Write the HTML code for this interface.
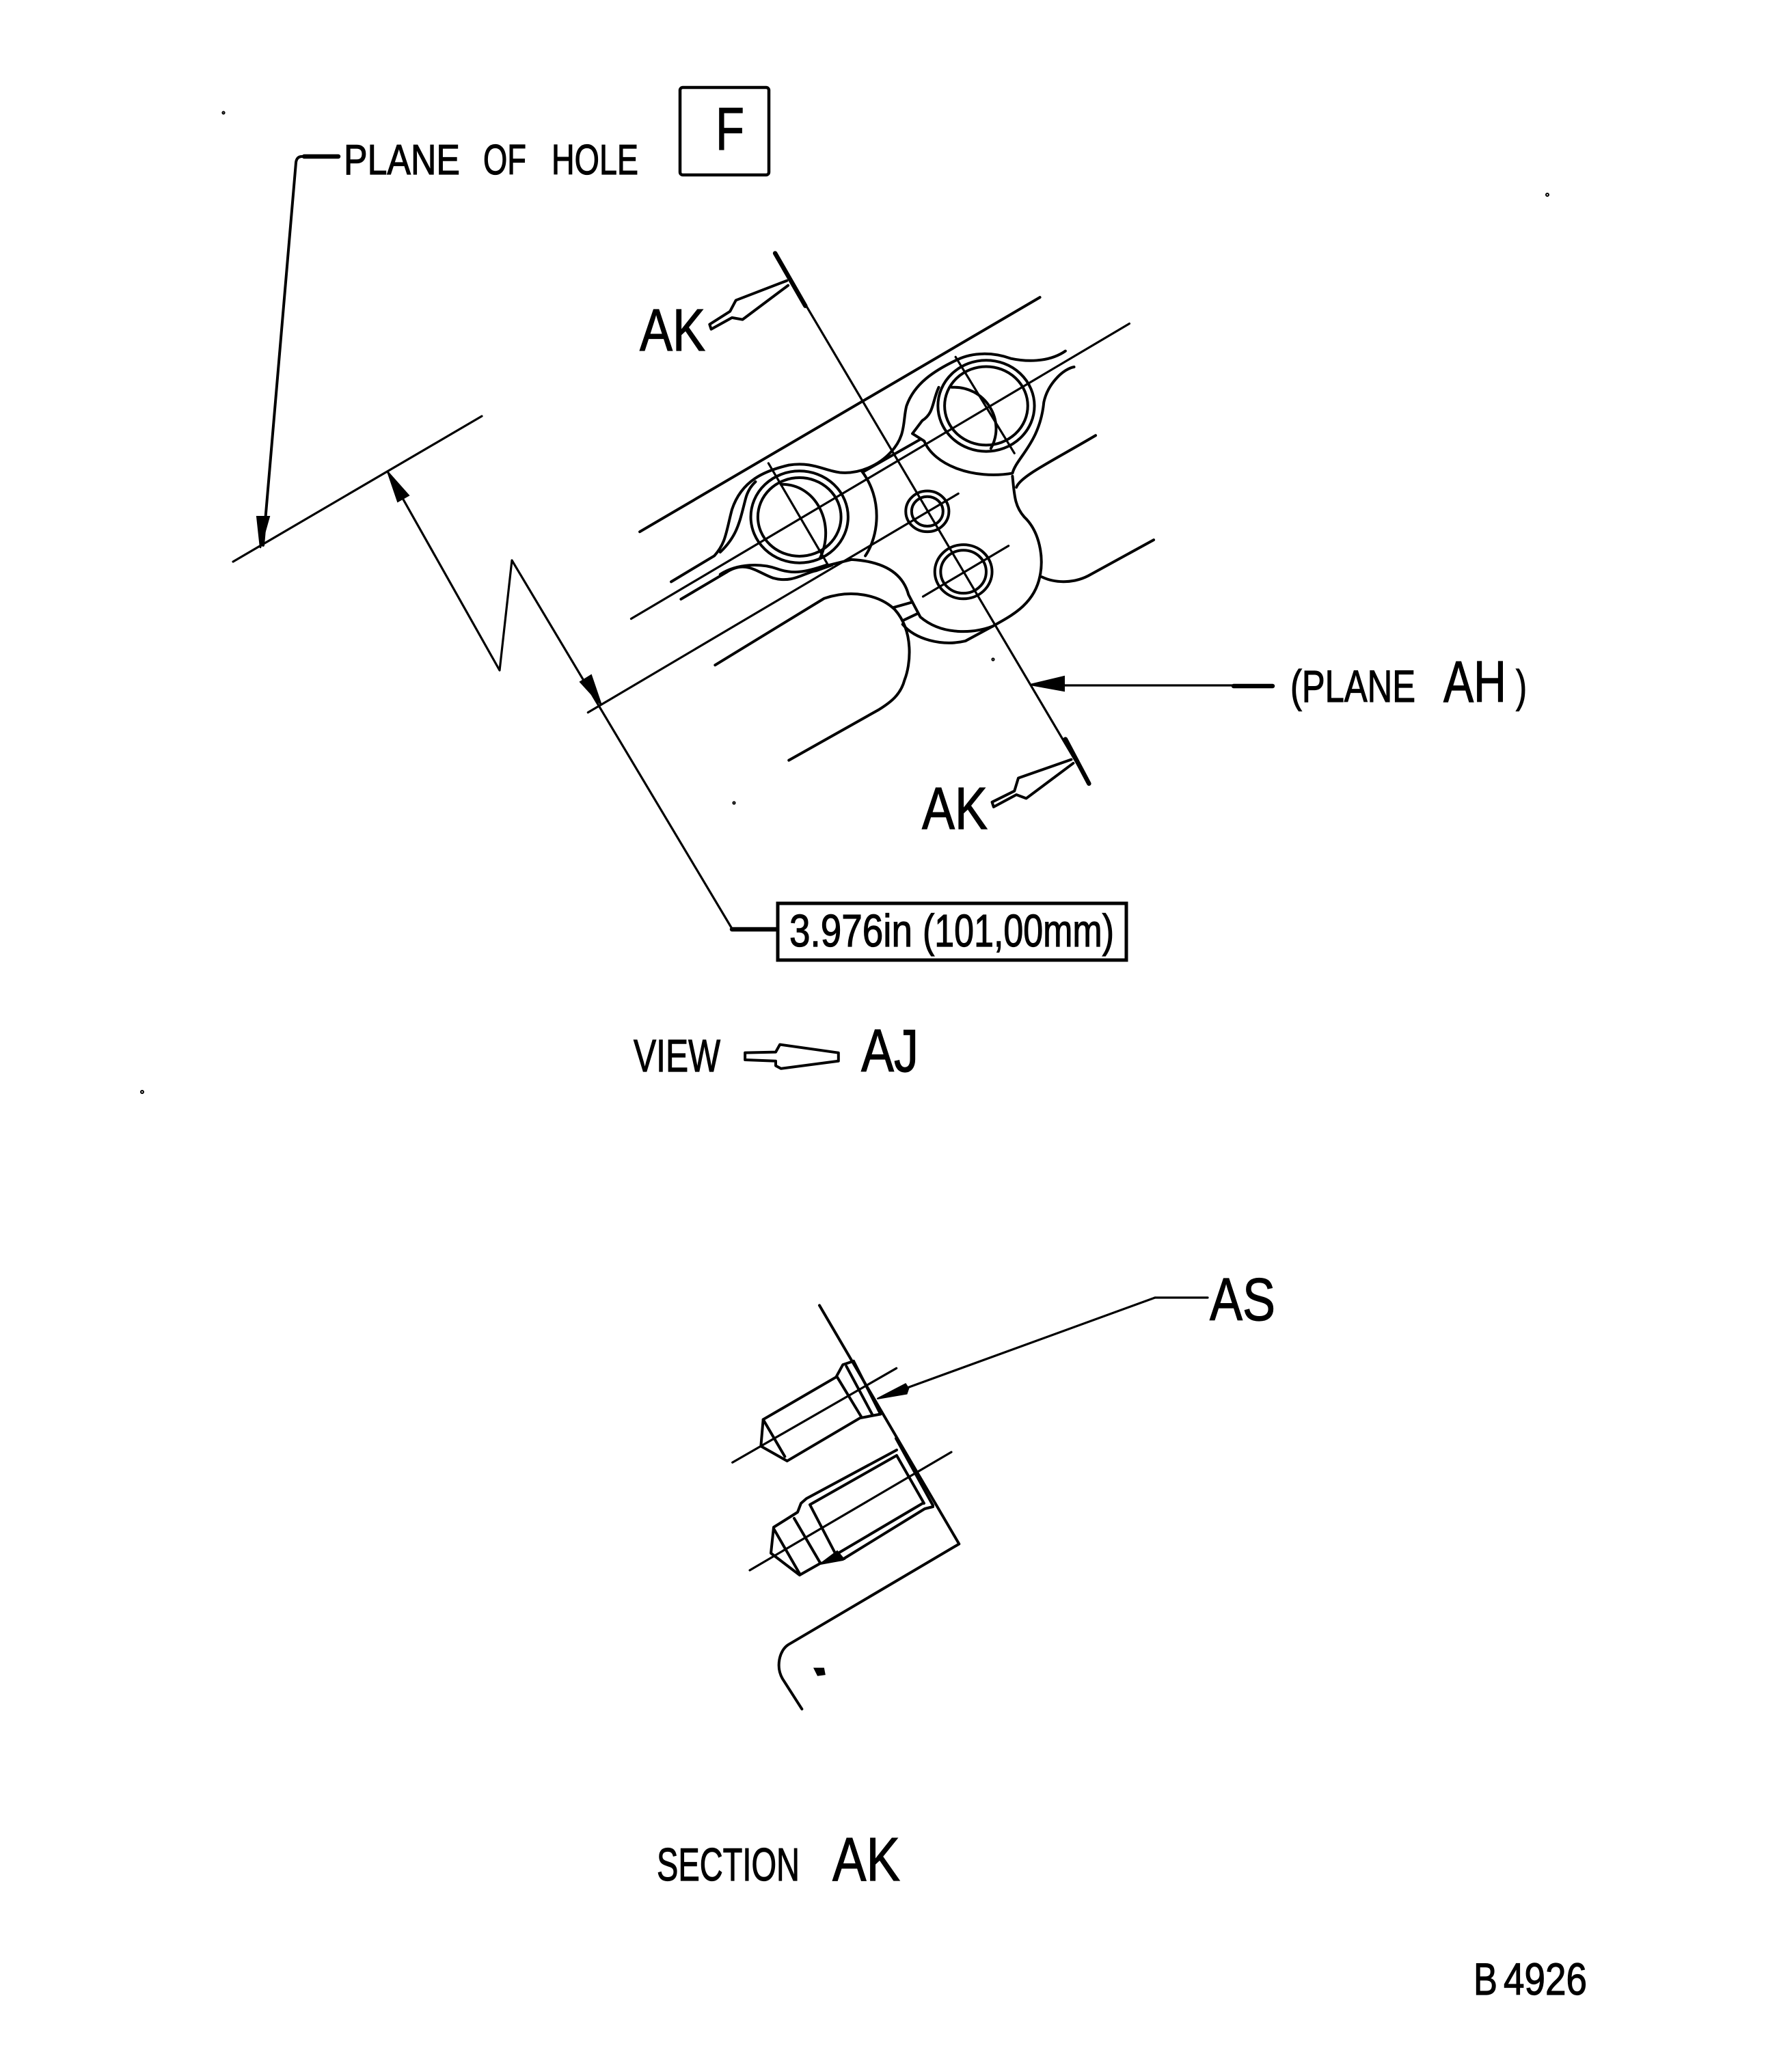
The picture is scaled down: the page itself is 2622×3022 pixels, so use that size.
<!DOCTYPE html>
<html><head><meta charset="utf-8"><style>
html,body{margin:0;padding:0;background:#fff}
svg{display:block}
text{font-family:"Liberation Sans",sans-serif;fill:#000;stroke:#000;stroke-width:1.2}
.d *{vector-effect:non-scaling-stroke}
.d path,.d line,.d circle,.d polyline{fill:none;stroke:#000;stroke-width:4;stroke-linejoin:round;stroke-linecap:round}
.d .th{stroke-width:3.2}
.d .b{stroke-width:6.5}
.d polygon.k{fill:#000;stroke:#000;stroke-width:2}
.d polygon.o{fill:#fff;stroke:#000;stroke-width:4;stroke-linejoin:round}
</style></head><body>
<svg width="2622" height="3022" viewBox="0 0 2622 3022" xmlns="http://www.w3.org/2000/svg">
<rect width="2622" height="3022" fill="#fff"/>
<g class="d">
<!-- top-left dimension lines -->
<line x1="341" y1="822" x2="705" y2="609" class="th"/>
<path d="M495 229H442Q434 229 433 238L385 798"/>
<line x1="495" y1="229" x2="445" y2="229" class="b"/>
<polygon class="k" points="381,802 376,756 394,756"/>
<polygon class="k" points="567,690 598,725 582,734"/>
<polyline class="th" points="567,690 731,981 749,820 1071,1359"/>
<polygon class="k" points="880,1032 865,988 849,998"/>
<line x1="1071" y1="1360" x2="1135" y2="1360" class="b"/>
<rect x="995" y="128" width="130" height="128" rx="4" fill="none" stroke="#000" stroke-width="4.5"/>
<rect x="1138" y="1322" width="510" height="83" fill="none" stroke="#000" stroke-width="5"/>

<!-- main part, in zoom coordinates -->
<g transform="translate(850 350) scale(.574 .542)">
<line x1="495" y1="38" x2="1295" y2="1470" class="th"/>
<line x1="495" y1="38" x2="572" y2="180" class="b"/>
<line x1="1235" y1="1350" x2="1295" y2="1470" class="b"/>
<path d="M525 112L395 165L380 195L328 230L332 243L385 212L412 217L528 125"/>
<path d="M1250 1405L1115 1455L1105 1490L1048 1520L1052 1533L1110 1500L1135 1510L1255 1415"/>
<line x1="150" y1="790" x2="1170" y2="157"/>
<line x1="128" y1="1025" x2="1398" y2="228" class="th"/>
<line x1="18" y1="1278" x2="962" y2="687" class="th"/>
<line x1="872" y1="965" x2="1090" y2="828" class="th"/>
<circle cx="1033" cy="450" r="123"/>
<circle cx="1033" cy="450" r="106"/>
<circle cx="557" cy="750" r="124"/>
<circle cx="557" cy="750" r="106"/>
<circle cx="883" cy="735" r="55"/>
<circle cx="883" cy="735" r="40"/>
<circle cx="975" cy="898" r="73"/>
<circle cx="975" cy="898" r="58"/>
<line x1="955" y1="318" x2="1105" y2="578" class="th"/>
<line x1="478" y1="605" x2="630" y2="880" class="th"/>
<path d="M945 400C1030 395 1085 490 1045 565"/>
<path d="M510 662C600 660 650 770 610 860"/>
<path d="M1235 302C1190 335 1130 330 1095 322C1050 305 1000 305 960 325C900 355 850 390 830 450C820 490 830 530 790 575C760 610 710 635 660 630C620 625 590 600 530 610C470 625 410 650 385 730C370 790 370 820 340 855L230 925"/>
<path d="M912 400C895 440 900 470 870 490L845 525L875 545C900 610 1000 650 1100 632C1110 590 1170 550 1180 440C1190 390 1230 350 1257 345"/>
<path d="M1110 670C1120 640 1200 600 1312 530"/>
<path d="M1100 640C1105 690 1105 720 1130 750C1170 790 1180 860 1170 910C1155 990 1090 1020 1050 1045C1000 1065 920 1070 865 1020L835 960C820 900 770 870 690 865L625 882"/>
<path d="M1175 912C1210 930 1260 930 1300 905L1460 812"/>
<path d="M820 1040C850 1080 920 1100 980 1085L1050 1045"/>
<path d="M342 1150L620 970C690 945 760 960 800 1000C850 1060 840 1150 825 1190C815 1230 790 1250 760 1270L530 1407"/>
<path d="M795 995L845 980M820 1030L860 1010"/>
<path d="M715 625C770 700 760 800 725 855"/>
<path d="M720 628L866 540"/>
<path d="M255 972L370 900C420 865 450 900 490 915C540 930 570 900 600 895L640 880"/>
<path d="M355 905C400 875 460 875 500 890C540 905 570 900 625 880"/>
<path d="M355 845C400 800 405 760 420 700C425 680 435 665 445 655"/>
</g>

<!-- plane AH leader -->
<polygon class="k" points="1507,1002 1557,990 1557,1011"/>
<line x1="1557" y1="1003" x2="1860" y2="1003" class="th"/>
<line x1="1805" y1="1004" x2="1862" y2="1004" class="b"/>

<!-- view arrow -->
<g transform="translate(880 1294) scale(.51 .345)">
<polygon class="o" points="412,715 500,712 512,680 680,715 680,750 515,782 500,770 500,750 412,745"/>
</g>

<!-- section -->
<line x1="1767" y1="1899" x2="1690" y2="1899" class="th"/>
<line x1="1690" y1="1899" x2="1330" y2="2030" class="th"/>
<g transform="translate(1050 1880) scale(.3333 .4337)">
<polygon class="k" points="700,385 825,335 838,350 830,368"/>
<path d="M447 70L1060 875L310 1215C270 1235 255 1290 285 1330L370 1432"/>
<line x1="65" y1="600" x2="785" y2="282" class="th"/>
<path d="M597 258L550 270L520 312L200 455L190 545L305 595L625 450L715 437"/>
<path d="M200 455L295 580M525 312L630 445M565 275L680 440M597 258L715 437"/>
<polygon class="k" points="425,1295 465,1295 470,1315 440,1318"/>
</g>
<!-- lower hole -->
<path d="M1097 2298L1392 2125" class="th"/>
<path d="M1312 2122L1180 2193L1172 2200L1167 2213L1132 2235L1128 2273L1170 2305L1200 2288L1233 2282L1353 2208L1365 2205"/>
<path d="M1312 2130L1185 2202L1223 2275L1350 2200M1162 2222L1200 2287M1132 2237L1170 2303M1311 2105L1365 2203M1312 2130L1352 2200"/>
<polygon class="k" points="1205,2285 1225,2270 1235,2282"/>
<!-- specks -->
<circle cx="327" cy="165" r="1" class="th"/>
<circle cx="2264" cy="285" r="1"/>
<circle cx="208" cy="1598" r="1"/>
<circle cx="1074" cy="1175" r="1" class="th"/>
<circle cx="1453" cy="965" r="1" class="th"/>
</g>

<!-- text -->
<text x="503" y="255" font-size="62" textLength="170" lengthAdjust="spacingAndGlyphs">PLANE</text>
<text x="707" y="255" font-size="62" textLength="63" lengthAdjust="spacingAndGlyphs">OF</text>
<text x="807" y="255" font-size="62" textLength="127" lengthAdjust="spacingAndGlyphs">HOLE</text>
<text x="1047" y="219" font-size="88" textLength="42" lengthAdjust="spacingAndGlyphs">F</text>
<text x="936" y="513" font-size="87" textLength="96" lengthAdjust="spacingAndGlyphs">AK</text>
<text x="1349" y="1213" font-size="87" textLength="96" lengthAdjust="spacingAndGlyphs">AK</text>
<text x="1888" y="1027" font-size="66" textLength="183" lengthAdjust="spacingAndGlyphs">(PLANE</text>
<text x="2112" y="1027" font-size="85" textLength="92" lengthAdjust="spacingAndGlyphs">AH</text>
<text x="2218" y="1027" font-size="66" textLength="16" lengthAdjust="spacingAndGlyphs">)</text>
<text x="1155" y="1385" font-size="67" textLength="180" lengthAdjust="spacingAndGlyphs">3.976in</text>
<text x="1350" y="1385" font-size="67" textLength="280" lengthAdjust="spacingAndGlyphs">(101,00mm)</text>
<text x="927" y="1568" font-size="67" textLength="127" lengthAdjust="spacingAndGlyphs">VIEW</text>
<text x="1260" y="1568" font-size="88" textLength="84" lengthAdjust="spacingAndGlyphs">AJ</text>
<text x="1770" y="1932" font-size="88" textLength="96" lengthAdjust="spacingAndGlyphs">AS</text>
<text x="961" y="2752" font-size="68" textLength="209" lengthAdjust="spacingAndGlyphs">SECTION</text>
<text x="1218" y="2752" font-size="90" textLength="99" lengthAdjust="spacingAndGlyphs">AK</text>
<text x="2156" y="2919" font-size="66" textLength="35" lengthAdjust="spacingAndGlyphs">B</text>
<text x="2200" y="2919" font-size="66" textLength="122" lengthAdjust="spacingAndGlyphs">4926</text>
</svg>
</body></html>
